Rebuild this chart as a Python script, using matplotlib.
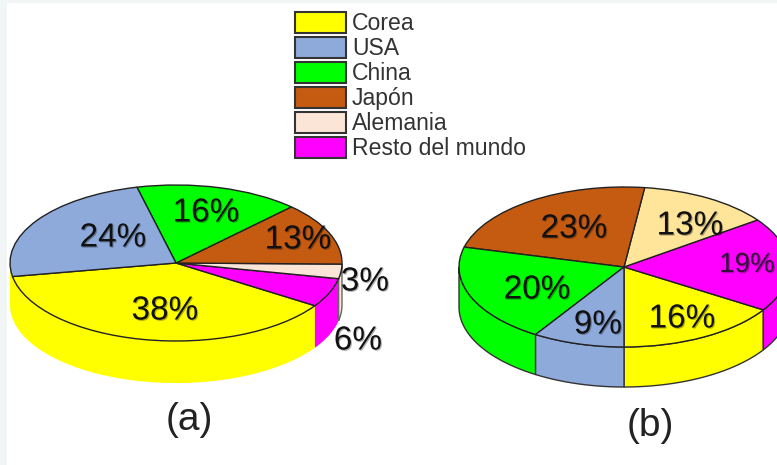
import numpy as np
import matplotlib.pyplot as plt
import matplotlib.patheffects as pe
from matplotlib.patches import Patch, Rectangle

plt.rcParams['font.family'] = ['Liberation Sans', 'DejaVu Sans']

W, H = 777, 465

legend_names = ['Corea', 'USA', 'China', 'Japón', 'Alemania', 'Resto del mundo']
legend_colors = ['#ffff00', '#8eaadb', '#00ff00', '#c55a11', '#fbe5d6', '#ff00ff']

values_a = [38, 6, 3, 13, 16, 24]
colors_a = ['#ffff00', '#ff00ff', '#fbe5d6', '#c55a11', '#00ff00', '#8eaadb']
wall_edges_a = ['none', 'none', '#666666', 'none', 'none', 'none']
label_pos_a = [(165, 311), (358, 341), (365, 282), (298, 240), (206, 213), (113, 238)]

values_b = [16, 19, 13, 23, 20, 9]
colors_b = ['#ffff00', '#ff00ff', '#ffe599', '#c55a11', '#00ff00', '#8eaadb']
wall_edges_b = ['#333333'] * 6
label_pos_b = [(682, 319), (747, 265), (690, 226), (574, 229), (537, 290), (598, 325)]


def full_axes(fig):
    ax = fig.add_axes([0, 0, 1, 1])
    ax.patch.set_alpha(0)
    ax.axis('off')
    return ax


# pie stretched to an ellipse by setting the limits, the wall is drawn below it
def tilted_pie(fig, values, colors, start, cx, cy, rx, ry, depth, wall_edges):
    ax = full_axes(fig)
    ax.pie(values, colors=colors, startangle=start, counterclock=True, radius=1,
           wedgeprops={'edgecolor': '#222222', 'linewidth': 1.0, 'zorder': 3})
    ax.set_aspect('auto')
    ax.set_xlim((0 - cx) / rx, (W - cx) / rx)
    ax.set_ylim((cy - H) / ry, cy / ry)
    d = depth / ry
    edges = start + np.cumsum([0] + list(values)) * 3.6
    for i, c in enumerate(colors):
        t0, t1 = edges[i], edges[i + 1]
        # the first slice also covers the wall just behind its start
        if i == 0:
            t0 = min(t0, 180)
        for shift in (0, 360):
            a, b = max(t0 + shift, 180), min(t1 + shift, 360)
            if b > a:
                t = np.radians(np.linspace(a, b, 80))
                xs = np.r_[np.cos(t), np.cos(t[::-1])]
                ys = np.r_[np.sin(t), np.sin(t[::-1]) - d]
                ax.fill(xs, ys, facecolor=c, edgecolor=wall_edges[i], linewidth=1.0, zorder=1)
    return ax


fig = plt.figure(figsize=(W / 100, H / 100), dpi=100, facecolor='white')

tilted_pie(fig, values_a, colors_a, 190, 176, 263, 166, 78, 42, wall_edges_a)
tilted_pie(fig, values_b, colors_b, -90, 624, 267, 165, 80, 40, wall_edges_b)

top = full_axes(fig)
top.set_xlim(0, W)
top.set_ylim(H, 0)

# light strips along the left and top edge
top.add_patch(Rectangle((0, 0), 7, H, facecolor='#f2f5f5', edgecolor='none', zorder=5))
top.add_patch(Rectangle((0, 0), W, 3, facecolor='#f2f5f5', edgecolor='none', zorder=5))

shadow = [pe.SimplePatchShadow(offset=(0.8, -0.8), shadow_rgbFace='#000000', alpha=0.3), pe.Normal()]

for v, (x, y) in zip(values_a, label_pos_a):
    top.text(x, y, f'{v}%', fontsize=24, ha='center', va='center', color='#111111',
             path_effects=shadow, zorder=6)
for v, (x, y) in zip(values_b, label_pos_b):
    size = 20 if v == 19 else 24
    color = '#33103a' if v == 19 else '#111111'
    top.text(x, y, f'{v}%', fontsize=size, ha='center', va='center', color=color,
             path_effects=shadow, zorder=6)

top.text(189, 420, '(a)', fontsize=28, ha='center', va='center', color='#222222', zorder=6)
top.text(650, 426, '(b)', fontsize=28, ha='center', va='center', color='#222222', zorder=6)

handles = [Patch(facecolor=c, edgecolor='#333333', linewidth=1.5) for c in legend_colors]
top.legend(handles, legend_names, loc='upper left', bbox_to_anchor=(288 / W, 1 - 5 / H),
           frameon=False, fontsize=16.6, labelcolor='#333333', handlelength=2.2,
           handleheight=1.0, handletextpad=0.28, labelspacing=0.08, borderpad=0.3, borderaxespad=0)

fig.savefig('out.png', dpi=100)
